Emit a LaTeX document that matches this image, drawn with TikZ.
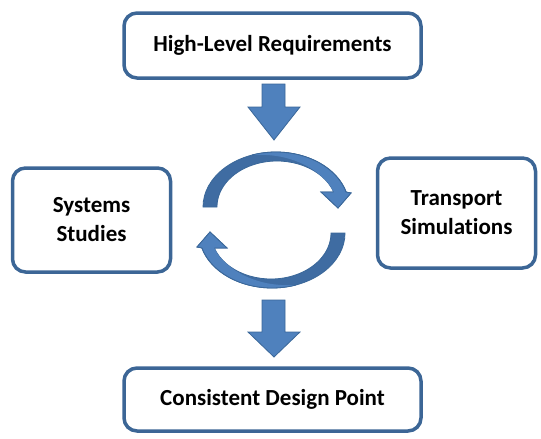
\documentclass[tikz,border=0pt]{standalone}
\usepackage{fontspec}
\setmainfont[Ligatures=NoCommon]{Carlito}
\definecolor{boxblue}{HTML}{3C6696}
\definecolor{arrowblue}{HTML}{4F81BD}
\definecolor{arrowedge}{HTML}{3A6799}
\definecolor{twistblue}{HTML}{3F6CA2}
\begin{document}
\begin{tikzpicture}[x=1pt,y=-1pt,
  box/.style={draw=boxblue, line width=3.5pt, rounded corners=13pt, fill=white,
    align=center, inner sep=0pt,
    font=\bfseries\fontsize{23}{29}\selectfont},
  blockarrow/.style={fill=arrowblue, draw=arrowedge, line width=0.8pt, line join=miter},
  twist/.style={fill=twistblue, draw=arrowedge, line width=0.8pt, line join=miter},
  face/.style={fill=arrowblue}]
\useasboundingbox (0,0) rectangle (541,439);

% the four boxes
\node[box, minimum width=297pt, minimum height=65pt] (hlr) at (272.5,45.5) {High-Level Requirements};
\node[box, minimum width=158pt, minimum height=104pt] (sys) at (91.5,220) {Systems\\Studies};
\node[box, minimum width=158pt, minimum height=110pt] (trn) at (456.5,213) {Transport\\Simulations};
\node[box, minimum width=297pt, minimum height=63pt] (cdp) at (272.5,399.5) {Consistent Design Point};

% block arrows between the top/bottom boxes and the loop
\draw[blockarrow] (262,84) -- (285,84) -- (285,107) -- (300,107) -- (274,140)
  -- (248,107) -- (262,107) -- cycle;
\draw[blockarrow] (262,300) -- (285,300) -- (285,332) -- (300,332) -- (274,357)
  -- (248,332) -- (262,332) -- cycle;

% one curved arrow of the loop: dark twisted body, lighter front face
\newcommand{\loopbody}{%
  \draw[twist] (203,207) arc[start angle=180,end angle=344.2,x radius=73,y radius=55]
    -- (351,193) -- (338,208) -- (321,192) -- (333.7,192)
    arc[start angle=340.97,end angle=180,x radius=60,y radius=46] -- cycle;
  \fill[face] (252,155) arc[start angle=251,end angle=344.2,x radius=73,y radius=55]
    -- (351,193) -- (338,208) -- (321,192) -- (333.7,192)
    arc[start angle=340.97,end angle=325,x radius=60,y radius=46]
    .. controls (310,164) and (285,153) .. (252,155) -- cycle;
  \draw[arrowedge, line width=0.8pt, line join=miter]
    (252,155) arc[start angle=251,end angle=344.2,x radius=73,y radius=55]
    -- (351,193) -- (338,208) -- (321,192) -- (333.7,192);
}
\loopbody
\begin{scope}[rotate around={180:(274,220)}]
  \loopbody
\end{scope}
\end{tikzpicture}
\end{document}
